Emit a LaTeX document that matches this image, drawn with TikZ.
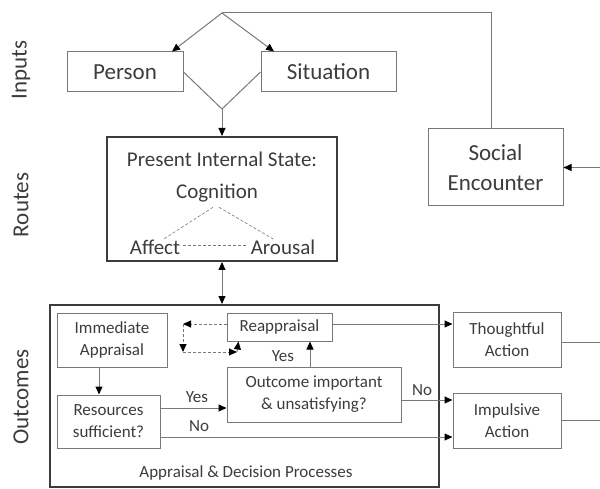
\documentclass[tikz,border=0pt]{standalone}
\usepackage{fontspec}
\setmainfont{Carlito}
\usepackage{tikz}
\usetikzlibrary{arrows,arrows.meta,positioning}
\definecolor{linegray}{RGB}{120,120,120}
\definecolor{framegray}{RGB}{60,60,60}
\definecolor{textgray}{RGB}{60,60,60}

\begin{document}
\begin{tikzpicture}[>={Stealth[length=8pt, width=7pt, inset=0pt, color=black]}, x=1pt, y=-1pt]
		\tikzstyle{inbox} = [draw=linegray, line width=1pt, inner sep=0pt, align=center, text=textgray, font=\fontsize{23}{30}\selectfont]
		\tikzstyle{smallbox} = [draw=linegray, line width=1pt, inner sep=0pt, align=center, text=textgray, font=\fontsize{17}{22}\selectfont]
		\tikzstyle{heavybox} = [draw=framegray, line width=2pt, inner sep=0pt]
		\tikzstyle{sidelabel} = [rotate=90, inner sep=0pt, text=textgray, font=\fontsize{23}{28}\selectfont]
		\tikzstyle{statetext} = [inner sep=0pt, text=textgray, font=\fontsize{21}{25}\selectfont]
		\tikzstyle{flowlabel} = [inner sep=0pt, text=textgray, font=\fontsize{17}{22}\selectfont]
		\tikzstyle{conn} = [draw=linegray, line width=1pt]

		\useasboundingbox (0,0) rectangle (600,489);

		\node[sidelabel] (inputs) at (21,70) {Inputs};
		\node[sidelabel] (routes) at (21,205) {Routes};
		\node[sidelabel] (outcomes) at (21,397) {Outcomes};
		\coordinate (rim) at (600,0);

		\begin{scope}
		\node[inbox, minimum width=116pt, minimum height=40pt] (person) at (125,72) {Person};
		\node[inbox, minimum width=135pt, minimum height=40pt, right=77pt of person] (situation) {Situation};
		\node[inbox, minimum width=135pt, minimum height=77pt] (social) at (495.5,167.5) {Social\\Encounter};
		\coordinate (apex) at (222,13);
		\coordinate (join) at (222,109);
		\coordinate (corner) at (491,13);
		\end{scope}

		\begin{scope}
		\node[heavybox, minimum width=230pt, minimum height=124pt] (state) at (222,199) {};
		\node[statetext] (statetitle) at (222,159) {Present Internal State:};
		\node[statetext] (cognition) at (217,193) {Cognition};
		\node[statetext] (affect) at (155,247) {Affect};
		\node[statetext] (arousal) at (283,247) {Arousal};

		\path[every edge/.style={draw=linegray, line width=0.6pt, dash pattern=on 3pt off 2pt}]
		([xshift=-4pt, yshift=-5pt]cognition.south) edge ([xshift=8pt]affect.north)
		([xshift=2pt, yshift=-5pt]cognition.south) edge ([xshift=-9pt]arousal.north)
		([xshift=3pt, yshift=2pt]affect.east) edge ([xshift=-3pt, yshift=2pt]arousal.west)
		;
		\end{scope}

		\begin{scope}
		\node[heavybox, minimum width=389pt, minimum height=182pt] (process) at (244.5,396) {};
		\node[flowlabel] (processtitle) at (246,473) {Appraisal \& Decision Processes};

		\node[smallbox, minimum width=110pt, minimum height=54pt] (immediate) at (112,340) {Immediate\\Appraisal};
		\node[smallbox, minimum width=105pt, minimum height=28pt] (reappraisal) at (279.5,327) {Reappraisal};
		\node[smallbox, minimum width=103pt, minimum height=53pt] (resources) at (108.5,421.5) {Resources\\sufficient?};
		\node[smallbox, minimum width=174pt, minimum height=55pt] (outcome) at (314,394.5) {Outcome important\\\& unsatisfying?};
		\node[smallbox, minimum width=108pt, minimum height=55pt] (thoughtful) at (507,339.5) {Thoughtful\\Action};
		\node[smallbox, minimum width=108pt, minimum height=55pt, below=25pt of thoughtful] (impulsive) {Impulsive\\Action};

		\node[flowlabel] (yesfirst) at (197,397) {Yes};
		\node[flowlabel] (nofirst) at (199,426) {No};
		\node[flowlabel] (yessecond) at (283,356) {Yes};
		\node[flowlabel] (nosecond) at (422,390) {No};

		\coordinate (loopa) at (183,324);
		\coordinate (loopb) at (183,352);
		\coordinate (loopc) at (237,352);
		\end{scope}

		\draw[conn] (apex) -- (corner) -- (corner |- social.north);

		\path[every edge/.style={conn, ->}]
		(apex) edge ([xshift=47pt]person.north)
		(apex) edge ([xshift=-54.5pt]situation.north)
		(person.east) edge[-] (join)
		(situation.west) edge[-] (join)
		(join) edge (state.north)
		(social.east -| rim) edge (social.east)
		(state.south) edge[<->] (state.south |- process.north)
		([xshift=-13pt]immediate.south) edge ([xshift=-13pt]immediate.south |- resources.north)
		([yshift=13.5pt]resources.east) edge ([yshift=13.5pt]resources.east -| outcome.west)
		([yshift=-15.5pt]resources.east) edge ([yshift=-15.5pt]resources.east -| impulsive.west)
		([xshift=-4pt]outcome.north) edge ([xshift=-4pt]outcome.north |- reappraisal.south)
		([yshift=3pt]reappraisal.east) edge ([yshift=3pt]reappraisal.east -| thoughtful.west)
		([yshift=-5.5pt]outcome.east) edge ([yshift=-5.5pt]outcome.east -| impulsive.west)
		([yshift=-2.5pt]thoughtful.east) edge[-] ([yshift=-2.5pt]thoughtful.east -| rim)
		(impulsive.east) edge[-] (impulsive.east -| rim)
		;

		\path[every edge/.style={conn, ->, dash pattern=on 3pt off 2pt}]
		([yshift=3pt]reappraisal.west) edge (loopa)
		(loopa) edge (loopb)
		(loopb) edge (loopc)
		(loopc) edge ([xshift=12pt]reappraisal.south west)
		;

		\end{tikzpicture}
\end{document}
